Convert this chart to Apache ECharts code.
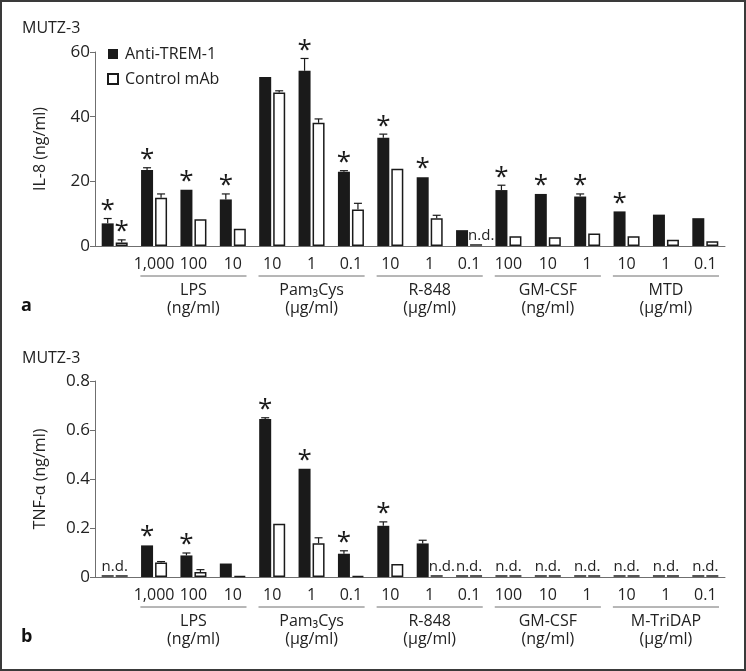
<!DOCTYPE html>
<html><head><meta charset="utf-8">
<script src="https://cdn.jsdelivr.net/npm/echarts@6/dist/echarts.min.js"></script>
<style>html,body{margin:0;padding:0;background:#fff}#c{width:746px;height:671px}</style>
</head><body><div id="c"></div>
<script>
// ---------- data ----------
const seriesNames = ['Anti-TREM-1', 'Control mAb'];
const tickLabels = ['', '1,000', '100', '10', '10', '1', '0.1', '10', '1', '0.1', '100', '10', '1', '10', '1', '0.1'];
const groupCenters = [2, 5, 8, 11, 14];
const topGroupNames = ['LPS', 'Pam₃Cys', 'R-848', 'GM-CSF', 'MTD'];
const bottomGroupNames = ['LPS', 'Pam₃Cys', 'R-848', 'GM-CSF', 'M-TriDAP'];
const groupUnits = ['(ng/ml)', '(μg/ml)', '(μg/ml)', '(ng/ml)', '(μg/ml)'];

// panel a: IL-8 (ng/ml); null = n.d.
const il8Anti = [7.0, 23.5, 17.4, 14.4, 52.3, 54.2, 23.0, 33.5, 21.3, 4.9, 17.3, 16.1, 15.3, 10.7, 9.7, 8.6];
const il8AntiErr = [1.5, 0.7, 0.1, 1.7, 0.1, 3.8, 0.3, 1.1, 0.1, 0, 1.5, 0.1, 0.8, 0, 0, 0];
const il8AntiStar = [1, 1, 1, 1, 0, 1, 1, 1, 1, 0, 1, 1, 1, 1, 0, 0];
const il8Ctrl = [1.1, 14.9, 8.3, 5.3, 47.5, 38.1, 11.3, 23.9, 8.6, null, 3.0, 2.7, 3.9, 3.0, 1.9, 1.5];
const il8CtrlErr = [0.8, 1.2, 0.2, 0, 0.5, 1.2, 1.9, 0.2, 0.9, 0, 0, 0, 0.1, 0, 0, 0];
const il8CtrlStar = [1, 0, 0, 0, 0, 0, 0, 0, 0, 0, 0, 0, 0, 0, 0, 0];

// panel b: TNF-α (ng/ml); null = n.d.
const tnfAnti = [null, 0.129, 0.088, 0.055, 0.645, 0.442, 0.095, 0.209, 0.137, null, null, null, null, null, null, null];
const tnfAntiErr = [0, 0.003, 0.010, 0.003, 0.005, 0.002, 0.012, 0.016, 0.013, 0, 0, 0, 0, 0, 0, 0];
const tnfAntiStar = [0, 1, 1, 0, 1, 1, 1, 1, 0, 0, 0, 0, 0, 0, 0, 0];
const tnfCtrl = [null, 0.059, 0.020, 0.004, 0.217, 0.138, 0.004, 0.053, null, null, null, null, null, null, null, null];
const tnfCtrlErr = [0, 0.004, 0.010, 0, 0, 0.022, 0, 0, 0, 0, 0, 0, 0, 0, 0, 0];
const tnfCtrlStar = [0, 0, 0, 0, 0, 0, 0, 0, 0, 0, 0, 0, 0, 0, 0, 0];

// ---------- style ----------
const FONT = '"Open Sans", "DejaVu Sans", sans-serif';
const INK = '#1a1a1a';
const TXT = '#222';
const AXIS = '#6f6f6f';
const BARW = 12, HALF = 7;
const FS = 16;

const chart = echarts.init(document.getElementById('c'));

function annotRows(vals, errs, stars, other) {
  return vals.map((v, i) => [i, v == null ? 0 : v, errs[i], stars[i], v == null ? 1 : 0, other[i] == null ? 1 : 0]);
}

function annotRender(off, isCtrl) {
  return function (params, api) {
    const i = api.value(0), v = api.value(1), e = api.value(2), star = api.value(3), nd = api.value(4), otherNd = api.value(5);
    const base = api.coord([i, 0]);
    const x = base[0] + off, y0 = base[1];
    const ch = [];
    if (nd) {
      ch.push({ type: 'line', shape: { x1: x - BARW / 2, y1: y0 - 1, x2: x + BARW / 2, y2: y0 - 1 }, style: { stroke: '#555', lineWidth: 2 } });
      if (isCtrl && !otherNd) {
        ch.push({ type: 'text', style: { text: 'n.d.', x: base[0] - 1, y: y0 - 3, align: 'left', verticalAlign: 'bottom', font: '15px ' + FONT, fill: TXT } });
      } else if (!isCtrl) {
        ch.push({ type: 'text', style: { text: 'n.d.', x: base[0], y: y0 - 3, align: 'center', verticalAlign: 'bottom', font: '15px ' + FONT, fill: TXT } });
      }
      return { type: 'group', children: ch };
    }
    const yv = api.coord([i, v])[1];
    const yt = api.coord([i, v + e])[1];
    if (e > 0 && yv - yt > 0.8) {
      ch.push({ type: 'line', shape: { x1: x, y1: yv, x2: x, y2: yt }, style: { stroke: INK, lineWidth: 1.2 } });
      ch.push({ type: 'line', shape: { x1: x - 4, y1: yt, x2: x + 4, y2: yt }, style: { stroke: INK, lineWidth: 1.2 } });
    }
    if (star) {
      ch.push({ type: 'text', style: { text: '*', x: x, y: yt + 5, align: 'center', verticalAlign: 'bottom', font: '26px ' + FONT, fill: INK } });
    }
    return { type: 'group', children: ch };
  };
}

function groupRender(names) {
  return function (params, api) {
    const i = api.value(0);
    const base = api.coord([i, 0]);
    const band = api.size([1, 0])[0];
    const x = base[0], y0 = base[1];
    return {
      type: 'group', children: [
        { type: 'line', shape: { x1: x - 1.5 * band + 6, y1: y0 + 30, x2: x + 1.5 * band - 6, y2: y0 + 30 }, style: { stroke: AXIS, lineWidth: 1 } },
        { type: 'text', style: { text: names[params.dataIndex], x: x, y: y0 + 44, align: 'center', verticalAlign: 'middle', font: FS + 'px ' + FONT, fill: TXT } },
        { type: 'text', style: { text: groupUnits[params.dataIndex], x: x, y: y0 + 62, align: 'center', verticalAlign: 'middle', font: FS + 'px ' + FONT, fill: TXT } }
      ]
    };
  };
}

function xAxisFor(gi) {
  return {
    type: 'category', gridIndex: gi, data: tickLabels,
    axisLine: { lineStyle: { color: AXIS, width: 1 } },
    axisTick: { alignWithLabel: true, length: 5, lineStyle: { color: AXIS } },
    axisLabel: { interval: 0, margin: 10, color: TXT, fontSize: FS, fontFamily: FONT }
  };
}
function yAxisFor(gi, max, interval, name, fmt) {
  return {
    type: 'value', gridIndex: gi, min: 0, max: max, interval: interval,
    name: name, nameLocation: 'middle', nameGap: 47,
    nameTextStyle: { color: TXT, fontSize: 16, fontFamily: FONT },
    axisLine: { show: true, lineStyle: { color: AXIS } },
    axisTick: { show: true, length: 5, lineStyle: { color: AXIS } },
    splitLine: { show: false },
    axisLabel: { margin: 5, color: TXT, fontSize: 17, fontFamily: FONT, formatter: fmt }
  };
}
function bars(name, data, gi, white) {
  return {
    type: 'bar', name: name, xAxisIndex: gi, yAxisIndex: gi,
    data: data.map(v => v == null ? '-' : v),
    barWidth: BARW, barGap: '16.67%',
    itemStyle: white ? { color: '#fff', borderColor: INK, borderWidth: 1.5 } : { color: INK },
    emphasis: { disabled: true }, silent: true, z: 2
  };
}
function annot(vals, errs, stars, other, gi, isCtrl) {
  return {
    type: 'custom', xAxisIndex: gi, yAxisIndex: gi, clip: false, silent: true, z: 3,
    data: annotRows(vals, errs, stars, other),
    encode: { x: 0, y: 1 },
    renderItem: annotRender(isCtrl ? HALF : -HALF, isCtrl)
  };
}
function groups(names, gi) {
  return {
    type: 'custom', xAxisIndex: gi, yAxisIndex: gi, clip: false, silent: true,
    data: groupCenters.map(c => [c, 0]), encode: { x: 0, y: 1 },
    renderItem: groupRender(names)
  };
}

chart.setOption({
  backgroundColor: '#fff',
  animation: false,
  textStyle: { fontFamily: FONT },
  title: [
    { text: 'MUTZ-3', left: 22, top: 20, padding: 0, textStyle: { fontSize: FS, fontWeight: 'normal', color: TXT, fontFamily: FONT } },
    { text: 'MUTZ-3', left: 22, top: 350, padding: 0, textStyle: { fontSize: FS, fontWeight: 'normal', color: TXT, fontFamily: FONT } },
    { text: 'a', left: 21, top: 297, padding: 0, textStyle: { fontSize: 18, fontWeight: 'bold', color: '#111', fontFamily: FONT } },
    { text: 'b', left: 21, top: 628, padding: 0, textStyle: { fontSize: 18, fontWeight: 'bold', color: '#111', fontFamily: FONT } }
  ],
  legend: {
    data: seriesNames, orient: 'vertical', left: 107, top: 46, padding: 0,
    itemWidth: 10, itemHeight: 10, itemGap: 9, icon: 'rect',
    textStyle: { fontSize: FS, color: TXT, fontFamily: FONT, padding: [0, 0, 0, 2] },
    selectedMode: false
  },
  grid: [
    { left: 95, top: 52, width: 630, height: 194, containLabel: false },
    { left: 95, top: 381, width: 630, height: 196, containLabel: false }
  ],
  xAxis: [xAxisFor(0), xAxisFor(1)],
  yAxis: [
    yAxisFor(0, 60, 20, 'IL-8 (ng/ml)', v => String(v)),
    yAxisFor(1, 0.8, 0.2, 'TNF-α (ng/ml)', v => v === 0 ? '0' : v.toFixed(1))
  ],
  series: [
    bars(seriesNames[0], il8Anti, 0, false),
    bars(seriesNames[1], il8Ctrl, 0, true),
    annot(il8Anti, il8AntiErr, il8AntiStar, il8Ctrl, 0, false),
    annot(il8Ctrl, il8CtrlErr, il8CtrlStar, il8Anti, 0, true),
    groups(topGroupNames, 0),
    bars(seriesNames[0], tnfAnti, 1, false),
    bars(seriesNames[1], tnfCtrl, 1, true),
    annot(tnfAnti, tnfAntiErr, tnfAntiStar, tnfCtrl, 1, false),
    annot(tnfCtrl, tnfCtrlErr, tnfCtrlStar, tnfAnti, 1, true),
    groups(bottomGroupNames, 1)
  ],
  graphic: [
    { type: 'rect', shape: { x: 1, y: 1, width: 744, height: 669 }, style: { fill: 'none', stroke: '#3a3a3a', lineWidth: 2 }, silent: true }
  ]
});
</script>
</body></html>
